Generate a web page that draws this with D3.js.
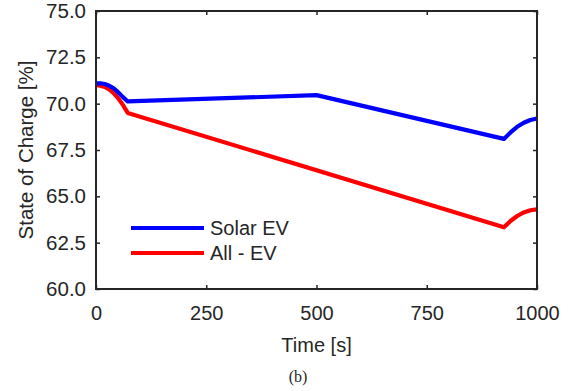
<!DOCTYPE html>
<html><head><meta charset="utf-8">
<script src="https://cdn.jsdelivr.net/npm/d3@7"></script>
<style>body{margin:0;background:#fff}svg{display:block}text{font-family:"Liberation Sans",Arial,sans-serif;fill:#262626}</style>
</head><body><svg id="c" width="579" height="391"></svg>
<script>
const xTicks = [0, 250, 500, 750, 1000];
const yTicks = [60.0, 62.5, 65.0, 67.5, 70.0, 72.5, 75.0];
const seriesNames = ["Solar EV", "All - EV"];
const seriesColors = ["#0000ff", "#ff0000"];
const solarTime = [0, 10, 20, 30, 40, 50, 60, 72, 500, 925, 940, 955, 970, 985, 1000];
const solarSoc  = [71.1, 71.1, 71.06, 70.97, 70.83, 70.62, 70.38, 70.12, 70.46, 68.1, 68.45, 68.75, 68.97, 69.12, 69.2];
const allTime = [0, 10, 20, 30, 40, 50, 60, 72, 925, 940, 955, 970, 985, 1000];
const allSoc  = [71.0, 70.97, 70.9, 70.77, 70.57, 70.3, 69.97, 69.5, 63.33, 63.67, 63.94, 64.13, 64.25, 64.3];

const svg = d3.select("#c");
const L = 96, R = 537, T = 11, B = 289;
const x = d3.scaleLinear().domain([0, 1000]).range([L, R]);
const y = d3.scaleLinear().domain([60, 75]).range([B, T]);

const line = d3.line().x(d => x(d[0])).y(d => y(d[1]));
const series = [
  solarTime.map((t, i) => [t, solarSoc[i]]),
  allTime.map((t, i) => [t, allSoc[i]])
];
[1, 0].forEach(i => {
  svg.append("path").attr("d", line(series[i])).attr("fill", "none")
    .attr("stroke", seriesColors[i]).attr("stroke-width", 4.2).attr("stroke-linejoin", "round");
});

const fmtY = d3.format(".1f");
const ax = svg.append("g").attr("transform", `translate(0,${B})`)
  .call(d3.axisBottom(x).tickValues(xTicks).tickSizeInner(-4).tickSizeOuter(0).tickPadding(17).tickFormat(d3.format("d")));
const ay = svg.append("g").attr("transform", `translate(${L},0)`)
  .call(d3.axisLeft(y).tickValues(yTicks).tickSizeInner(-4).tickSizeOuter(0).tickPadding(10).tickFormat(fmtY));
const axT = svg.append("g").attr("transform", `translate(0,${T})`)
  .call(d3.axisTop(x).tickValues(xTicks).tickSizeInner(-4).tickSizeOuter(0).tickFormat(""));
const ayR = svg.append("g").attr("transform", `translate(${R},0)`)
  .call(d3.axisRight(y).tickValues(yTicks).tickSizeInner(-4).tickSizeOuter(0).tickFormat(""));
[ax, ay, axT, ayR].forEach(g => {
  g.select(".domain").remove();
  g.selectAll("line").attr("stroke", "#262626").attr("stroke-width", 1.5);
  g.selectAll("text").attr("font-size", 20).attr("fill", "#262626").style("font-family", "'Liberation Sans',Arial,sans-serif");
});
ay.selectAll("text").attr("font-size", 20.5);
svg.append("rect").attr("x", L).attr("y", T).attr("width", R - L).attr("height", B - T)
  .attr("fill", "none").attr("stroke", "#262626").attr("stroke-width", 2);

svg.append("text").attr("x", x(500)).attr("y", 352).attr("text-anchor", "middle")
  .attr("font-size", 20).text("Time [s]");
svg.append("text").attr("transform", `translate(33,${(T + B) / 2}) rotate(-90)`)
  .attr("text-anchor", "middle").attr("font-size", 20.5).text("State of Charge [%]");
svg.append("text").attr("x", 298).attr("y", 382).attr("text-anchor", "middle")
  .attr("font-size", 16).style("font-family", "'Liberation Serif','Times New Roman',serif").attr("fill", "#000").text("(b)");

seriesNames.forEach((n, i) => {
  const yy = 228 + i * 25;
  svg.append("line").attr("x1", 131).attr("x2", 204).attr("y1", yy).attr("y2", yy)
    .attr("stroke", seriesColors[i]).attr("stroke-width", 4.2);
  svg.append("text").attr("x", 210).attr("y", yy + 7).attr("font-size", 20).text(n);
});
</script></body></html>
